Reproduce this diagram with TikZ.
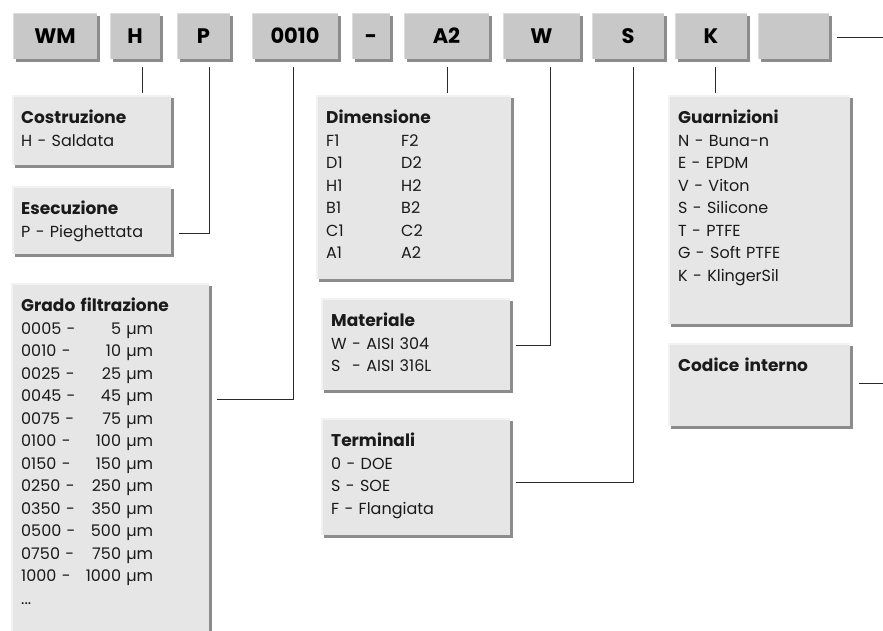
\documentclass[tikz,border=0pt]{standalone}
\usepackage{fontspec}
\setmainfont{Poppins}
\usetikzlibrary{shadows}
\definecolor{topfill}{HTML}{C8C8C8}
\definecolor{boxfill}{HTML}{E6E6E6}
\definecolor{shade}{HTML}{8C8C8C}
\definecolor{linec}{HTML}{2A2A2A}
\definecolor{txt}{HTML}{1A1A1A}
\definecolor{hitop}{HTML}{DCDCDC}
\definecolor{hibox}{HTML}{F2F2F2}
\newcommand{\hd}[1]{{\fontsize{17}{22.5}\selectfont\bfseries #1}}
\tikzset{
  codebox/.style={draw=none, fill=topfill,
    general shadow={fill=shade, shadow xshift=3pt, shadow yshift=-3pt},
    minimum height=46pt, inner sep=0pt, text height=15pt, text depth=0pt,
    font=\fontsize{21}{24}\selectfont\bfseries, text=black},
  infobox/.style={draw=none, fill=boxfill,
    general shadow={fill=shade, shadow xshift=3pt, shadow yshift=-3pt},
    inner sep=0pt, anchor=north west},
  infotext/.style={anchor=base west, inner sep=0pt, text width=#1, align=left,
    font=\fontsize{16}{22.5}\selectfont, text=txt},
  conn/.style={draw=linec, line width=0.8pt},
  hl/.style={draw=#1, line width=1.5pt},
}
\begin{document}
\begin{tikzpicture}[x=1pt,y=1pt]
\useasboundingbox (0,0) rectangle (883,-630);
\clip (0,0) rectangle (883,-630);

% top code boxes
\node[codebox, minimum width=84pt] (wm) at (55,-36) {WM};
\node[codebox, minimum width=50pt] (h) at (135,-36) {H};
\node[codebox, minimum width=53pt] (p) at (203.5,-36) {P};
\node[codebox, minimum width=86pt] (grade) at (295,-36) {0010};
\node[codebox, minimum width=38pt] (dash) at (371,-36) {-};
\node[codebox, minimum width=85pt] (a2) at (446.5,-36) {A2};
\node[codebox, minimum width=77pt] (w) at (541.5,-36) {W};
\node[codebox, minimum width=72pt] (s) at (628,-36) {S};
\node[codebox, minimum width=72pt] (k) at (711,-36) {K};
\node[codebox, minimum width=71pt] (empty) at (793.5,-36) {};
\foreach \b in {wm,h,p,grade,dash,a2,w,s,k,empty}
  \draw[hl=hitop] ([xshift=0.75pt]\b.south west) |- ([yshift=-0.75pt]\b.north east);

% info boxes
\node[infobox, minimum width=159pt, minimum height=70pt] (cost) at (12,-95) {};
\node[infobox, minimum width=159pt, minimum height=68pt] (esec) at (12,-186) {};
\node[infobox, minimum width=198pt, minimum height=417pt] (grado) at (11,-283) {};
\node[infobox, minimum width=195pt, minimum height=184pt] (dim) at (316,-95) {};
\node[infobox, minimum width=189pt, minimum height=92pt] (mat) at (321,-298) {};
\node[infobox, minimum width=189pt, minimum height=117pt] (term) at (321,-418) {};
\node[infobox, minimum width=182pt, minimum height=229pt] (guar) at (668,-95) {};
\node[infobox, minimum width=182pt, minimum height=83pt] (cod) at (668,-343) {};
\foreach \b in {cost,esec,grado,dim,mat,term,guar,cod}
  \draw[hl=hibox] ([xshift=0.75pt]\b.south west) |- ([yshift=-0.75pt]\b.north east);

% texts
\node[infotext=150pt] (costT) at ([xshift=9pt,yshift=-28.5pt]cost.north west)
  {\hd{Costruzione}\\H - Saldata};
\node[infotext=150pt] (esecT) at ([xshift=9pt,yshift=-28.5pt]esec.north west)
  {\hd{Esecuzione}\\P - Pieghettata};
\node[infotext=185pt] (gradoT) at ([xshift=10pt,yshift=-28.5pt]grado.north west)
  {\hd{Grado filtrazione}\\
   \makebox[132pt][l]{0005 -\hfill 5 µm}\\
   \makebox[132pt][l]{0010 -\hfill 10 µm}\\
   \makebox[132pt][l]{0025 -\hfill 25 µm}\\
   \makebox[132pt][l]{0045 -\hfill 45 µm}\\
   \makebox[132pt][l]{0075 -\hfill 75 µm}\\
   \makebox[132pt][l]{0100 -\hfill 100 µm}\\
   \makebox[132pt][l]{0150 -\hfill 150 µm}\\
   \makebox[132pt][l]{0250 -\hfill 250 µm}\\
   \makebox[132pt][l]{0350 -\hfill 350 µm}\\
   \makebox[132pt][l]{0500 -\hfill 500 µm}\\
   \makebox[132pt][l]{0750 -\hfill 750 µm}\\
   \makebox[132pt][l]{1000 -\hfill 1000 µm}\\
   ...};
\node[infotext=180pt] (dimT) at ([xshift=10pt,yshift=-28.5pt]dim.north west)
  {\hd{Dimensione}\\
   \makebox[75pt][l]{F1}F2\\
   \makebox[75pt][l]{D1}D2\\
   \makebox[75pt][l]{H1}H2\\
   \makebox[75pt][l]{B1}B2\\
   \makebox[75pt][l]{C1}C2\\
   \makebox[75pt][l]{A1}A2};
\node[infotext=175pt] (matT) at ([xshift=10pt,yshift=-28.5pt]mat.north west)
  {\hd{Materiale}\\
   \makebox[21pt][l]{W}- AISI 304\\
   \makebox[21pt][l]{S}- AISI 316L};
\node[infotext=175pt] (termT) at ([xshift=10pt,yshift=-28.5pt]term.north west)
  {\hd{Terminali}\\0 - DOE\\S - SOE\\F - Flangiata};
\node[infotext=170pt] (guarT) at ([xshift=10pt,yshift=-28.5pt]guar.north west)
  {\hd{Guarnizioni}\\N - Buna-n\\E - EPDM\\V - Viton\\S - Silicone\\T - PTFE\\G - Soft PTFE\\K - KlingerSil};
\node[infotext=170pt] (codT) at ([xshift=10pt,yshift=-28.5pt]cod.north west)
  {\hd{Codice interno}};

% connectors
\coordinate (hT) at ([xshift=7pt,yshift=-8pt]h.south);
\coordinate (pT) at ([xshift=5.5pt,yshift=-8pt]p.south);
\coordinate (gT) at ([xshift=-2pt,yshift=-8pt]grade.south);
\coordinate (aT) at ([xshift=0.5pt,yshift=-8pt]a2.south);
\coordinate (wT) at ([xshift=8.5pt,yshift=-8pt]w.south);
\coordinate (sT) at ([xshift=5pt,yshift=-8pt]s.south);
\coordinate (kT) at ([xshift=4pt,yshift=-8pt]k.south);
\coordinate (edgeA) at (884,-37);
\coordinate (edgeB) at (884,-383);

\draw[conn, shorten >=2pt] (hT) -- (hT |- cost.north);
\draw[conn] (pT) |- ([xshift=8pt,yshift=-47pt]esec.north east);
\draw[conn] (gT) |- ([xshift=8pt,yshift=-116pt]grado.north east);
\draw[conn, shorten >=2pt] (aT) -- (aT |- dim.north);
\draw[conn] (wT) |- ([xshift=6pt,yshift=-47pt]mat.north east);
\draw[conn] (sT) |- ([xshift=6pt,yshift=-64pt]term.north east);
\draw[conn, shorten >=2pt] (kT) -- (kT |- guar.north);
\draw[conn] ([xshift=8pt,yshift=-1pt]empty.east) -- (edgeA);
\draw[conn] ([xshift=9pt,yshift=-40pt]cod.north east) -- (edgeB);
\end{tikzpicture}
\end{document}
